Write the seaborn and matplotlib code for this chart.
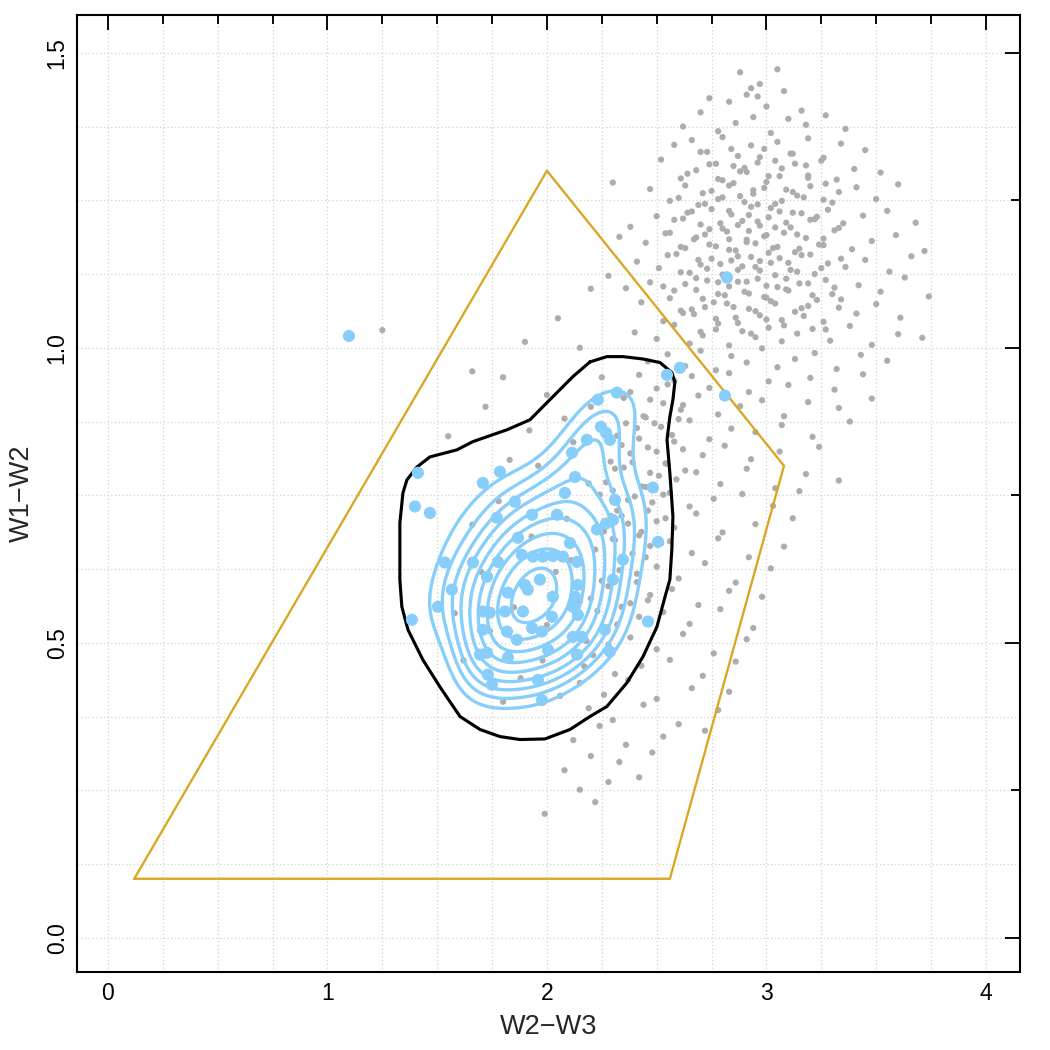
import numpy as np
import pandas as pd
import matplotlib
matplotlib.use('Agg')
import matplotlib.pyplot as plt
from matplotlib.ticker import MultipleLocator
import seaborn as sns

sns.set_style('white')
plt.rcParams['font.family'] = ['Liberation Sans', 'DejaVu Sans']

# selected sources (light blue points)
blue_w23 = [1.098, 2.820, 2.606, 2.547, 2.811, 2.319, 2.232, 2.246, 2.269, 2.287,
            2.182, 2.114, 2.128, 2.082, 2.310, 2.483, 1.412, 1.786, 1.708, 1.399,
            1.467, 1.854, 1.932, 2.046, 1.772, 1.868, 2.228, 2.269, 2.301, 2.105,
            2.506, 1.535, 1.663, 1.777, 1.886, 1.936, 1.982, 2.027, 2.073, 2.137,
            2.346, 1.567, 1.727, 1.822, 1.900, 1.913, 1.968, 2.027, 2.141, 2.128,
            2.301, 2.118, 1.385, 1.503, 1.708, 1.740, 1.809, 1.891, 2.023, 2.141,
            1.708, 1.818, 1.863, 1.932, 1.977, 2.118, 2.159, 2.264, 2.460, 1.695,
            1.727, 1.822, 2.005, 2.137, 2.287, 1.731, 1.749, 1.959, 1.977]
blue_w12 = [1.020, 1.119, 0.966, 0.954, 0.919, 0.924, 0.912, 0.866, 0.856, 0.844,
            0.844, 0.822, 0.781, 0.754, 0.742, 0.763, 0.788, 0.790, 0.771, 0.731,
            0.720, 0.739, 0.717, 0.717, 0.712, 0.678, 0.692, 0.702, 0.708, 0.669,
            0.671, 0.636, 0.636, 0.637, 0.649, 0.646, 0.646, 0.647, 0.646, 0.637,
            0.641, 0.590, 0.612, 0.585, 0.598, 0.590, 0.607, 0.578, 0.598, 0.578,
            0.607, 0.561, 0.539, 0.561, 0.553, 0.551, 0.553, 0.553, 0.544, 0.547,
            0.522, 0.519, 0.505, 0.525, 0.519, 0.510, 0.510, 0.522, 0.536, 0.480,
            0.483, 0.475, 0.488, 0.480, 0.485, 0.446, 0.429, 0.437, 0.403]

# field sources (grey cloud)
field_pts = [
    (2.88, 1.467), (2.97, 1.447), (3.05, 1.472), (2.93, 1.440),
    (2.74, 1.423), (2.83, 1.417), (2.91, 1.429), (3.00, 1.409), (3.08, 1.435), (3.16, 1.402), (2.96, 1.426),
    (2.62, 1.375), (2.70, 1.399), (2.78, 1.367), (2.86, 1.381), (2.94, 1.391), (3.02, 1.364), (3.10, 1.388),
    (3.18, 1.378), (3.27, 1.394), (3.36, 1.371),
    (2.58, 1.344), (2.66, 1.352), (2.73, 1.332), (2.80, 1.357), (2.87, 1.325), (2.93, 1.343), (2.99, 1.337),
    (3.05, 1.349), (3.12, 1.329), (3.19, 1.355), (3.26, 1.322), (3.34, 1.346), (3.45, 1.335),
    (2.52, 1.319), (2.61, 1.287), (2.68, 1.301), (2.74, 1.311), (2.80, 1.284), (2.85, 1.308), (2.91, 1.298),
    (2.96, 1.314), (3.01, 1.291), (3.07, 1.304), (3.13, 1.312), (3.19, 1.292), (3.25, 1.317), (3.32, 1.285),
    (3.40, 1.303), (3.52, 1.297),
    (2.47, 1.269), (2.56, 1.249), (2.63, 1.275), (2.69, 1.242), (2.75, 1.266), (2.80, 1.255), (2.85, 1.279),
    (2.90, 1.247), (2.94, 1.261), (2.99, 1.271), (3.04, 1.244), (3.09, 1.268), (3.14, 1.258), (3.20, 1.274),
    (3.26, 1.251), (3.33, 1.264), (3.41, 1.272), (3.50, 1.252), (3.60, 1.277),
    (2.38, 1.205), (2.50, 1.223), (2.58, 1.217), (2.64, 1.229), (2.70, 1.209), (2.75, 1.235), (2.80, 1.202),
    (2.84, 1.226), (2.89, 1.215), (2.93, 1.239), (2.97, 1.207), (3.01, 1.221), (3.06, 1.231), (3.11, 1.204),
    (3.16, 1.228), (3.22, 1.218), (3.28, 1.234), (3.35, 1.211), (3.44, 1.224), (3.55, 1.232), (3.68, 1.212),
    (2.33, 1.188), (2.45, 1.178), (2.54, 1.194), (2.61, 1.171), (2.67, 1.184), (2.72, 1.192), (2.77, 1.172),
    (2.82, 1.197), (2.86, 1.165), (2.91, 1.183), (2.95, 1.177), (2.99, 1.189), (3.03, 1.169), (3.08, 1.195),
    (3.13, 1.162), (3.18, 1.186), (3.24, 1.175), (3.31, 1.199), (3.39, 1.167), (3.48, 1.181), (3.59, 1.191),
    (3.72, 1.164),
    (2.28, 1.122), (2.41, 1.146), (2.51, 1.135), (2.59, 1.159), (2.65, 1.127), (2.70, 1.141), (2.75, 1.151),
    (2.80, 1.124), (2.84, 1.148), (2.89, 1.138), (2.93, 1.154), (2.97, 1.131), (3.02, 1.144), (3.06, 1.152),
    (3.11, 1.132), (3.16, 1.157), (3.22, 1.125), (3.28, 1.143), (3.36, 1.137), (3.45, 1.149), (3.56, 1.129),
    (3.66, 1.155),
    (2.36, 1.101), (2.47, 1.111), (2.56, 1.084), (2.63, 1.108), (2.68, 1.098), (2.73, 1.114), (2.78, 1.091),
    (2.83, 1.104), (2.87, 1.112), (2.92, 1.092), (2.96, 1.117), (3.00, 1.085), (3.05, 1.103), (3.10, 1.097),
    (3.15, 1.109), (3.21, 1.089), (3.27, 1.115), (3.34, 1.082), (3.42, 1.106), (3.52, 1.095), (3.63, 1.119),
    (3.74, 1.087),
    (2.43, 1.077), (2.53, 1.045), (2.61, 1.063), (2.67, 1.057), (2.72, 1.069), (2.77, 1.049), (2.82, 1.075),
    (2.87, 1.042), (2.92, 1.066), (2.97, 1.055), (3.02, 1.079), (3.07, 1.047), (3.13, 1.061), (3.19, 1.071),
    (3.26, 1.044), (3.33, 1.068), (3.41, 1.058), (3.50, 1.074), (3.61, 1.051),
    (2.40, 1.026), (2.50, 1.015), (2.58, 1.039), (2.65, 1.007), (2.71, 1.021), (2.77, 1.031), (2.83, 1.004),
    (2.89, 1.028), (2.95, 1.018), (3.01, 1.034), (3.07, 1.011), (3.14, 1.024), (3.21, 1.032), (3.29, 1.012),
    (3.38, 1.037), (3.48, 1.005), (3.60, 1.023), (3.71, 1.017),
    (2.46, 0.977), (2.55, 0.989), (2.63, 0.969), (2.70, 0.995), (2.77, 0.962), (2.84, 0.986), (2.91, 0.975),
    (2.98, 0.999), (3.05, 0.967), (3.13, 0.981), (3.22, 0.991), (3.32, 0.964), (3.43, 0.988), (3.55, 0.978),
    (2.42, 0.954), (2.50, 0.931), (2.58, 0.944), (2.66, 0.952), (2.74, 0.932), (2.83, 0.957), (2.92, 0.925),
    (3.01, 0.943), (3.10, 0.937), (3.20, 0.949), (3.31, 0.929), (3.44, 0.955),
    (2.35, 0.915), (2.45, 0.882), (2.53, 0.906), (2.61, 0.895), (2.69, 0.919), (2.78, 0.887), (2.88, 0.901),
    (2.98, 0.911), (3.08, 0.884), (3.19, 0.908), (3.33, 0.898), (3.48, 0.914),
    (2.32, 0.851), (2.41, 0.864), (2.49, 0.872), (2.57, 0.852), (2.65, 0.877), (2.74, 0.845), (2.84, 0.863),
    (2.95, 0.857), (3.07, 0.869), (3.21, 0.849), (3.38, 0.875),
    (2.29, 0.807), (2.38, 0.821), (2.46, 0.831), (2.54, 0.804), (2.62, 0.828), (2.71, 0.818), (2.81, 0.834),
    (2.93, 0.811), (3.06, 0.824), (3.24, 0.832),
    (2.27, 0.772), (2.35, 0.797), (2.43, 0.765), (2.51, 0.783), (2.59, 0.777), (2.68, 0.789), (2.79, 0.769),
    (2.91, 0.795), (3.04, 0.762), (3.18, 0.786), (3.33, 0.775),
    (2.24, 0.751), (2.32, 0.724), (2.40, 0.748), (2.48, 0.738), (2.56, 0.754), (2.65, 0.731), (2.76, 0.744),
    (2.89, 0.752), (3.03, 0.732), (3.15, 0.757),
    (2.26, 0.689), (2.34, 0.715), (2.42, 0.682), (2.50, 0.706), (2.58, 0.695), (2.68, 0.719), (2.80, 0.687),
    (2.95, 0.701), (3.12, 0.711),
    (2.22, 0.658), (2.31, 0.674), (2.39, 0.651), (2.47, 0.664), (2.56, 0.672), (2.66, 0.652), (2.78, 0.677),
    (2.92, 0.645), (3.08, 0.663),
    (2.25, 0.605), (2.33, 0.623), (2.41, 0.617), (2.50, 0.629), (2.60, 0.609), (2.72, 0.635), (2.86, 0.602),
    (3.02, 0.626),
    (2.20, 0.575), (2.29, 0.599), (2.38, 0.567), (2.47, 0.581), (2.57, 0.591), (2.69, 0.564), (2.83, 0.588),
    (2.98, 0.578),
    (2.23, 0.554), (2.32, 0.531), (2.42, 0.544), (2.53, 0.552), (2.65, 0.532), (2.79, 0.557), (2.94, 0.525),
    (2.18, 0.503), (2.28, 0.497), (2.38, 0.509), (2.50, 0.489), (2.62, 0.515), (2.76, 0.482), (2.91, 0.506),
    (2.21, 0.479), (2.31, 0.447), (2.43, 0.461), (2.56, 0.471), (2.71, 0.444), (2.86, 0.468),
    (2.15, 0.432), (2.26, 0.412), (2.37, 0.437), (2.50, 0.405), (2.66, 0.423), (2.83, 0.417),
    (2.19, 0.389), (2.30, 0.369), (2.44, 0.395), (2.60, 0.362), (2.78, 0.386),
    (2.12, 0.335), (2.24, 0.359), (2.36, 0.327), (2.53, 0.341), (2.72, 0.351),
    (2.08, 0.284), (2.20, 0.308), (2.33, 0.298), (2.48, 0.314),
    (2.15, 0.251), (2.28, 0.264), (2.42, 0.272), (1.99, 0.210), (2.22, 0.230),
    # denser core
    (2.70, 1.332), (2.77, 1.312), (2.84, 1.337), (2.90, 1.305), (2.97, 1.323), (3.04, 1.317), (3.11, 1.329),
    (3.18, 1.309),
    (2.64, 1.295), (2.71, 1.262), (2.78, 1.286), (2.83, 1.275), (2.88, 1.299), (2.94, 1.267), (3.00, 1.281),
    (3.06, 1.291), (3.12, 1.264), (3.19, 1.288), (3.27, 1.278),
    (2.60, 1.254), (2.66, 1.231), (2.72, 1.244), (2.78, 1.252), (2.83, 1.232), (2.88, 1.257), (2.92, 1.225),
    (2.96, 1.243), (3.02, 1.237), (3.07, 1.249), (3.12, 1.229), (3.17, 1.255), (3.23, 1.222), (3.30, 1.246),
    (2.56, 1.195), (2.62, 1.219), (2.68, 1.187), (2.74, 1.201), (2.79, 1.211), (2.83, 1.184), (2.87, 1.208),
    (2.92, 1.198), (2.96, 1.214), (3.00, 1.191), (3.04, 1.204), (3.09, 1.212), (3.14, 1.192), (3.20, 1.217),
    (3.26, 1.185), (3.33, 1.203),
    (2.55, 1.157), (2.63, 1.169), (2.69, 1.149), (2.74, 1.175), (2.79, 1.142), (2.83, 1.166), (2.87, 1.155),
    (2.91, 1.179), (2.97, 1.147), (3.01, 1.161), (3.05, 1.171), (3.10, 1.144), (3.15, 1.168), (3.20, 1.158),
    (3.26, 1.174), (3.34, 1.151),
    (2.53, 1.104), (2.61, 1.128), (2.68, 1.118), (2.73, 1.134), (2.78, 1.111), (2.82, 1.124), (2.87, 1.132),
    (2.91, 1.112), (2.95, 1.137), (3.00, 1.105), (3.04, 1.123), (3.09, 1.117), (3.14, 1.129), (3.19, 1.109),
    (3.25, 1.135), (3.31, 1.102),
    (2.58, 1.097), (2.66, 1.065), (2.71, 1.083), (2.76, 1.077), (2.81, 1.089), (2.85, 1.069), (2.90, 1.095),
    (2.95, 1.062), (2.99, 1.086), (3.04, 1.075), (3.09, 1.099), (3.16, 1.067), (3.23, 1.081), (3.30, 1.091),
    (2.62, 1.059), (2.70, 1.027), (2.78, 1.041), (2.86, 1.051), (2.93, 1.024), (3.00, 1.048), (3.08, 1.038),
    (3.17, 1.054), (3.27, 1.031),
    # tail towards the selected sources
    (2.38, 0.925), (2.47, 0.912), (2.55, 0.938), (2.62, 0.903), (2.36, 0.872), (2.44, 0.884), (2.52, 0.866),
    (2.60, 0.879), (2.34, 0.835), (2.42, 0.846), (2.50, 0.824), (2.58, 0.841), (2.31, 0.795), (2.39, 0.806),
    (2.47, 0.788), (2.55, 0.803), (2.63, 0.792), (2.30, 0.758), (2.37, 0.742), (2.45, 0.764), (2.53, 0.751),
    (2.29, 0.715), (2.37, 0.702), (2.46, 0.724), (2.54, 0.711), (2.30, 0.676), (2.43, 0.688), (2.52, 0.669),
    (2.35, 0.638), (2.45, 0.645), (2.28, 0.596), (2.41, 0.603), (2.34, 0.561), (2.46, 0.572),
    # sparse points inside / left of the selection
    (1.62, 0.47), (1.70, 0.62), (1.78, 0.74), (1.85, 0.56), (1.88, 0.44), (1.93, 0.68), (1.96, 0.80),
    (2.00, 0.53), (2.04, 0.62), (2.06, 0.41), (2.09, 0.71), (2.12, 0.84), (2.15, 0.57), (2.17, 0.46),
    (2.19, 0.77), (2.08, 0.88), (2.00, 0.92), (1.92, 0.86), (1.83, 0.81), (1.74, 0.52), (1.66, 0.70),
    (1.58, 0.55), (1.80, 0.40), (2.11, 0.64), (1.98, 0.47),
    (1.25, 1.03), (1.66, 0.96), (1.80, 0.95), (1.90, 1.01), (1.55, 0.85), (1.72, 0.90), (2.05, 1.05),
    (2.15, 1.00), (2.20, 1.10), (2.25, 0.95), (2.30, 1.28), (2.20, 0.90),
]

# selection wedge
wedge_w23 = [0.12, 2.00, 3.08, 2.56, 0.12]
wedge_w12 = [0.10, 1.30, 0.80, 0.10, 0.10]

# outer (black) density contour
outer_w23 = [2.196, 2.273, 2.346, 2.437, 2.515, 2.569, 2.583, 2.574, 2.560, 2.547, 2.560, 2.574,
             2.569, 2.560, 2.538, 2.501, 2.437, 2.364, 2.273, 2.196, 2.105, 1.991, 1.877, 1.786,
             1.695, 1.604, 1.513, 1.435, 1.367, 1.339, 1.330, 1.330, 1.344, 1.362, 1.408, 1.467,
             1.590, 1.663, 1.818, 1.923, 2.000, 2.059, 2.118, 2.196]
outer_w12 = [0.976, 0.985, 0.985, 0.981, 0.975, 0.958, 0.942, 0.912, 0.883, 0.844, 0.788, 0.714,
             0.658, 0.607, 0.578, 0.527, 0.476, 0.432, 0.392, 0.375, 0.353, 0.337, 0.336, 0.341,
             0.353, 0.375, 0.425, 0.471, 0.522, 0.561, 0.607, 0.703, 0.754, 0.776, 0.798, 0.815,
             0.827, 0.841, 0.861, 0.878, 0.907, 0.929, 0.951, 0.976]

field_df = pd.DataFrame(field_pts, columns=['w23', 'w12'])
blue_df = pd.DataFrame({'w23': blue_w23, 'w12': blue_w12})

BLUE = '#87CEFA'

fig = plt.figure(figsize=(7, 7), dpi=150)
ax = fig.add_axes([0.0733, 0.0743, 0.8981, 0.9114])

# dotted grid
for gx in np.arange(0, 4.01, 0.25):
    ax.axvline(gx, color='#d3d3d3', lw=0.6, ls=(0, (1, 2)), zorder=0)
for gy in np.arange(0, 1.51, 0.125):
    ax.axhline(gy, color='#d3d3d3', lw=0.6, ls=(0, (1, 2)), zorder=0)

sns.scatterplot(data=field_df, x='w23', y='w12', s=9, color='#adadad',
                edgecolor='none', linewidth=0, ax=ax, zorder=1)

ax.plot(wedge_w23, wedge_w12, color='#DAA520', lw=1.1, zorder=2)

sns.kdeplot(data=blue_df, x='w23', y='w12', levels=np.linspace(0.3, 0.95, 9),
            bw_adjust=1.0, color=BLUE, linewidths=1.6, ax=ax, zorder=3)

ax.plot(outer_w23, outer_w12, color='black', lw=1.5, zorder=4)

sns.scatterplot(data=blue_df, x='w23', y='w12', s=34, color=BLUE,
                edgecolor='none', linewidth=0, ax=ax, zorder=5)

ax.set_xlim(-0.141, 4.155)
ax.set_ylim(-0.058, 1.564)

ax.xaxis.set_major_locator(MultipleLocator(1))
ax.xaxis.set_minor_locator(MultipleLocator(0.25))
ax.yaxis.set_major_locator(MultipleLocator(0.5))
ax.yaxis.set_minor_locator(MultipleLocator(0.25))
ax.set_yticks([0.0, 0.5, 1.0, 1.5])
ax.set_yticklabels(['0.0', '0.5', '1.0', '1.5'])
ax.tick_params(which='both', direction='in', top=True, right=True, width=0.9,
               labelsize=11, colors='black')
ax.tick_params(which='major', length=7)
ax.tick_params(which='minor', length=4.3)
ax.tick_params(axis='x', pad=5)
ax.tick_params(axis='y', pad=4)
plt.setp(ax.get_yticklabels(), rotation=90, va='center')

for sp in ax.spines.values():
    sp.set_color('black')
    sp.set_linewidth(1.0)

ax.set_xlabel('W2\u2212W3', fontsize=13, labelpad=4)
ax.set_ylabel('W1\u2212W2', fontsize=13, labelpad=5)

fig.savefig('out.png', dpi=150)
